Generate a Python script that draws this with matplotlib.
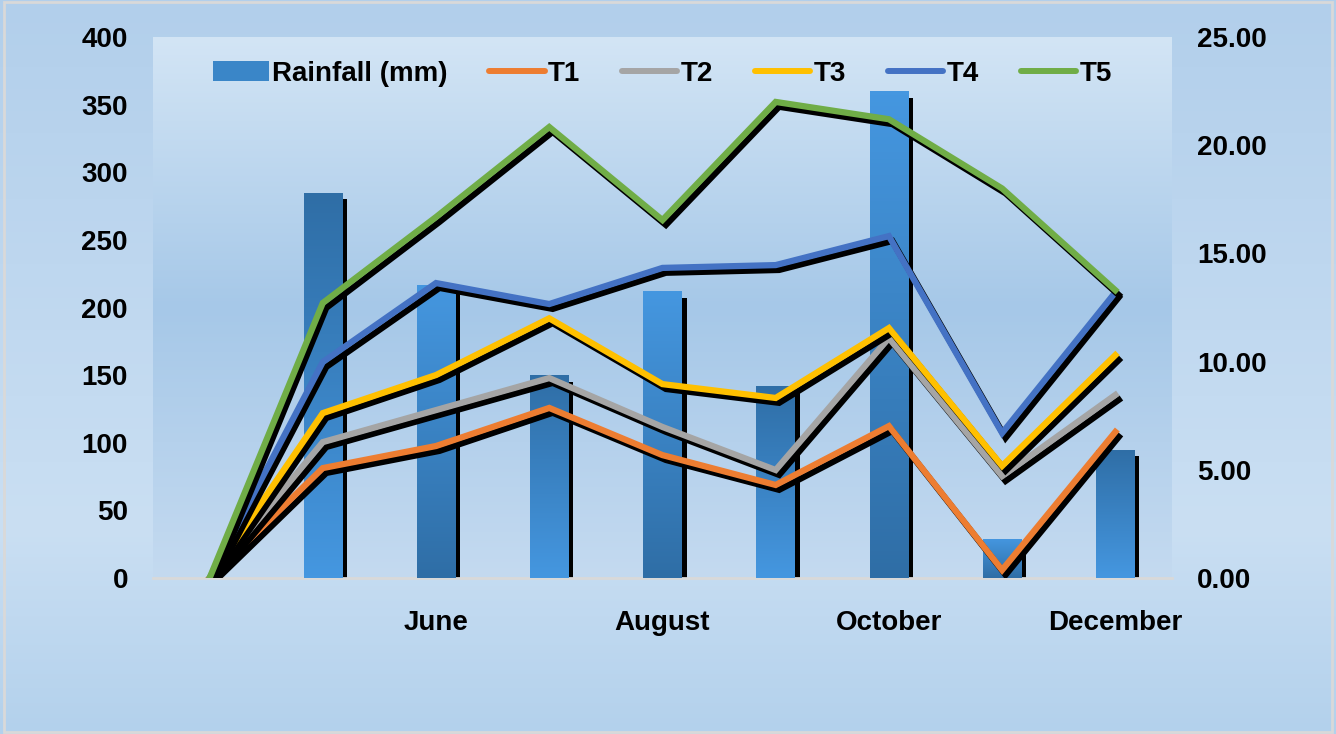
import numpy as np
import matplotlib
matplotlib.use('Agg')
import matplotlib.pyplot as plt
import matplotlib.patheffects as pe
from matplotlib.colors import LinearSegmentedColormap
from matplotlib.patches import Rectangle, Patch
from matplotlib.lines import Line2D

plt.rcParams['font.family'] = ['Liberation Sans', 'DejaVu Sans']
plt.rcParams['font.weight'] = 'bold'

# Data
months = ['', 'May', 'June', 'July', 'August', 'September', 'October', 'November', 'December']
rainfall = [0, 285, 217, 150, 212, 142, 360, 29, 95]
t1 = [0, 5.08, 6.10, 7.86, 5.68, 4.30, 7.02, 0.37, 6.75]
t2 = [0, 6.28, 7.76, 9.24, 6.98, 4.99, 11.09, 4.71, 8.46]
t3 = [0, 7.62, 9.38, 12.00, 8.96, 8.32, 11.55, 5.18, 10.30]
t4 = [0, 9.98, 13.63, 12.66, 14.33, 14.46, 15.80, 6.70, 13.20]
t5 = [0, 12.71, 16.68, 20.84, 16.54, 22.00, 21.20, 18.00, 13.30]

series = {'T1': t1, 'T2': t2, 'T3': t3, 'T4': t4, 'T5': t5}
line_colors = {'T1': '#ED7D31', 'T2': '#A5A5A5', 'T3': '#FFC000', 'T4': '#4472C4', 'T5': '#70AD47'}
# gradient direction of each bar (True = dark at top)
dark_top = [True, True, False, True, False, True, False, False, True]

fig = plt.figure(figsize=(13.36, 7.34), dpi=100)

# figure background gradient
bg = fig.add_axes([0, 0, 1, 1], zorder=-10)
bg_cmap = LinearSegmentedColormap.from_list('bg', [(0, '#b2cfeb'), (0.72, '#cadff3'), (1, '#b3d1ec')])
bg.imshow(np.linspace(0, 1, 256).reshape(-1, 1), aspect='auto', cmap=bg_cmap, extent=[0, 1, 0, 1])
bg.set_axis_off()
fig.patches.append(Rectangle((0.003, 0.003), 0.994, 0.994, transform=fig.transFigure,
                             fill=False, edgecolor='#d9d9d9', linewidth=2))

ax = fig.add_axes([0.1145, 0.2125, 0.7627, 0.7371])
x = np.arange(len(months))

# plot area gradient
pa_cmap = LinearSegmentedColormap.from_list('pa', [(0, '#c4daf0'), (0.5, '#a6c8e8'), (1, '#d3e5f5')])
ax.imshow(np.linspace(0, 1, 256).reshape(-1, 1), aspect='auto', cmap=pa_cmap, origin='lower',
          extent=[0, 1, 0, 1], transform=ax.transAxes, zorder=0)

bars = ax.bar(x, rainfall, width=0.34, color='#3a86c8', zorder=2,
              path_effects=[pe.SimplePatchShadow(offset=(3.5, -5), shadow_rgbFace='k', alpha=1), pe.Normal()])
bar_cmap = LinearSegmentedColormap.from_list('bar', ['#4597e0', '#2f6ea6'])
for b, dt in zip(bars, dark_top):
    h = b.get_height()
    if h <= 0:
        continue
    grad = np.linspace(0, 1, 128).reshape(-1, 1)
    if not dt:
        grad = grad[::-1]
    im = ax.imshow(grad, aspect='auto', cmap=bar_cmap, origin='lower',
                   extent=[b.get_x(), b.get_x() + b.get_width(), 0, h], zorder=3)
    im.set_clip_path(b)

ax.set_xlim(-0.5, 8.5)
ax.set_ylim(0, 400)
ax.set_yticks(np.arange(0, 401, 50))
ax.set_xticks(x)
ax.set_xticklabels([m if i % 2 == 0 else '' for i, m in enumerate(months)])
ax.tick_params(axis='y', length=0, pad=18, labelsize=20)
ax.tick_params(axis='x', length=0, pad=23, labelsize=20)
for s in ['top', 'left', 'right']:
    ax.spines[s].set_visible(False)
ax.spines['bottom'].set_color('#d9d9d9')
ax.spines['bottom'].set_linewidth(2)

ax2 = ax.twinx()
for name, vals in series.items():
    ax2.plot(x, vals, color=line_colors[name], linewidth=4.5, solid_joinstyle='miter',
             path_effects=[pe.SimpleLineShadow(offset=(2.5, -3.5), shadow_color='k', alpha=1), pe.Normal()])
ax2.set_ylim(0, 25)
ax2.set_yticks(np.arange(0, 26, 5))
ax2.set_yticklabels([f'{v:.2f}' for v in np.arange(0, 26, 5)])
ax2.tick_params(axis='y', length=0, pad=18, labelsize=20)
for s in ['top', 'left', 'right', 'bottom']:
    ax2.spines[s].set_visible(False)
ax2.set_xlim(-0.5, 8.5)

handles = [Patch(facecolor='#3a86c8', label='Rainfall (mm)')]
for name in series:
    handles.append(Line2D([0], [0], color=line_colors[name], linewidth=4.3, solid_capstyle='round', label=name))
ax2.legend(handles=handles, loc='center', bbox_to_anchor=(0.500, 0.932), ncol=6, frameon=False,
           fontsize=20, handlelength=2.0, handletextpad=0.12, columnspacing=1.5)

fig.savefig('out.png', dpi=100)
